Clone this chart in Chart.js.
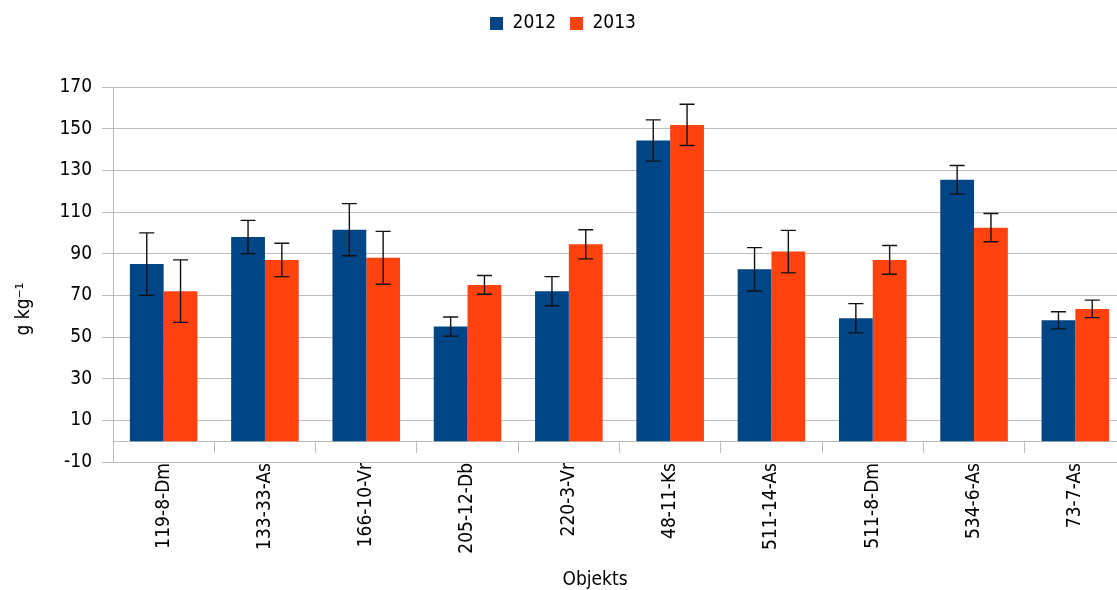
<!DOCTYPE html>
<html>
<head>
<meta charset="utf-8">
<title>Objekts 2012–2013</title>
<script src="https://cdn.jsdelivr.net/npm/chart.js@4"></script>
<style>
  html, body { margin: 0; padding: 0; background: #fff; overflow: hidden; }
  #wrap { width: 1130px; height: 590px; }
</style>
</head>
<body>
<div id="wrap"><canvas id="barChart" width="1130" height="590"></canvas></div>
<script>
"use strict"

// objekt names on the x axis
const objekts = ['119-8-Dm', '133-33-As', '166-10-Vr', '205-12-Db', '220-3-Vr',
                 '48-11-Ks', '511-14-As', '511-8-Dm', '534-6-As', '73-7-As'];

// mean values, g kg-1
const values2012 = [85, 98, 101.5, 55, 72, 144.3, 82.5, 59, 125.5, 58];
const values2013 = [72, 87, 88, 75, 94.5, 151.8, 91, 87, 102.5, 63.5];

// +/- error for each mean
const err2012 = [15, 8, 12.5, 4.6, 7, 9.9, 10.4, 7, 6.8, 4.1];
const err2013 = [15, 8, 12.7, 4.5, 7, 9.9, 10.2, 6.9, 6.8, 4.2];

// y axis ticks
const yMin = -10;
const yMax = 170;
const yStep = 20;

const fontFamily = "'Liberation Sans Narrow', 'DejaVu Sans Condensed', 'Open Sans', sans-serif";
const gridColor = '#bcbcbc';

//felstaplar ovanpå staplarna
const errorBars = {
    id: 'errorBars',
    afterDatasetsDraw(chart) {
        const ctx = chart.ctx;
        const yScale = chart.scales.y;
        ctx.save();
        ctx.strokeStyle = '#111';
        ctx.lineWidth = 1.4;
        chart.data.datasets.forEach((ds, i) => {
            const meta = chart.getDatasetMeta(i);
            meta.data.forEach((bar, j) => {
                const top = yScale.getPixelForValue(ds.data[j] + ds.errors[j]);
                const bottom = yScale.getPixelForValue(ds.data[j] - ds.errors[j]);
                const half = 7.5;
                ctx.beginPath();
                ctx.moveTo(bar.x, top);
                ctx.lineTo(bar.x, bottom);
                ctx.moveTo(bar.x - half, top);
                ctx.lineTo(bar.x + half, top);
                ctx.moveTo(bar.x - half, bottom);
                ctx.lineTo(bar.x + half, bottom);
                ctx.stroke();
            });
        });
        ctx.restore();
    }
};

//axeltitlar
const axisTitles = {
    id: 'axisTitles',
    afterDraw(chart) {
        const ctx = chart.ctx;
        ctx.save();
        ctx.fillStyle = '#000';
        ctx.font = '19px ' + fontFamily;
        ctx.textAlign = 'center';
        ctx.textBaseline = 'middle';
        ctx.fillText('Objekts', 595, 580);
        ctx.translate(24, 309);
        ctx.rotate(-Math.PI / 2);
        ctx.fillText('g kg⁻¹', 0, 0);
        ctx.restore();
    }
};

//mer luft under legenden
const legendGap = {
    id: 'legendGap',
    beforeInit(chart) {
        const fit = chart.legend.fit;
        chart.legend.fit = function() {
            fit.bind(chart.legend)();
            this.height += 44;
        };
    }
};

const ctx = document.getElementById('barChart').getContext('2d');

new Chart(ctx, {
    type: 'bar',
    data: {
        labels: objekts,
        datasets: [{
            label: '2012',
            data: values2012,
            errors: err2012,
            backgroundColor: '#004586'
        }, {
            label: '2013',
            data: values2013,
            errors: err2013,
            backgroundColor: '#ff420e'
        }]
    },
    options: {
        responsive: false,
        animation: false,
        layout: {
            padding: { top: 0, right: 4, bottom: 30, left: 0 }
        },
        datasets: {
            bar: {
                categoryPercentage: 0.667,
                barPercentage: 1.0,
                borderWidth: 0
            }
        },
        plugins: {
            legend: {
                position: 'top',
                labels: {
                    boxWidth: 13,
                    boxHeight: 13,
                    padding: 14,
                    color: '#000',
                    font: { family: fontFamily, size: 19 }
                }
            },
            tooltip: { enabled: false }
        },
        scales: {
            x: {
                type: 'category',
                position: 'bottom',
                grid: { display: false, drawTicks: false },
                border: { display: false },
                ticks: {
                    minRotation: 90,
                    maxRotation: 90,
                    padding: 1,
                    color: '#000',
                    font: { family: fontFamily, size: 19 }
                },
                afterFit(scale) {
                    scale.height = 98;
                }
            },
            // nollinjen med korta streck mellan kategorierna
            x0: {
                type: 'category',
                labels: objekts,
                position: { y: 0 },
                ticks: { display: false },
                grid: {
                    offset: true,
                    drawOnChartArea: false,
                    tickLength: 11,
                    color: gridColor
                },
                border: { color: gridColor }
            },
            y: {
                min: yMin,
                max: yMax,
                ticks: {
                    stepSize: yStep,
                    padding: 10,
                    color: '#000',
                    font: { family: fontFamily, size: 19 }
                },
                grid: {
                    color: gridColor,
                    tickLength: 11
                },
                border: { color: gridColor },
                afterFit(scale) {
                    scale.width = 113;
                }
            }
        }
    },
    plugins: [errorBars, axisTitles, legendGap]
});
</script>
</body>
</html>
